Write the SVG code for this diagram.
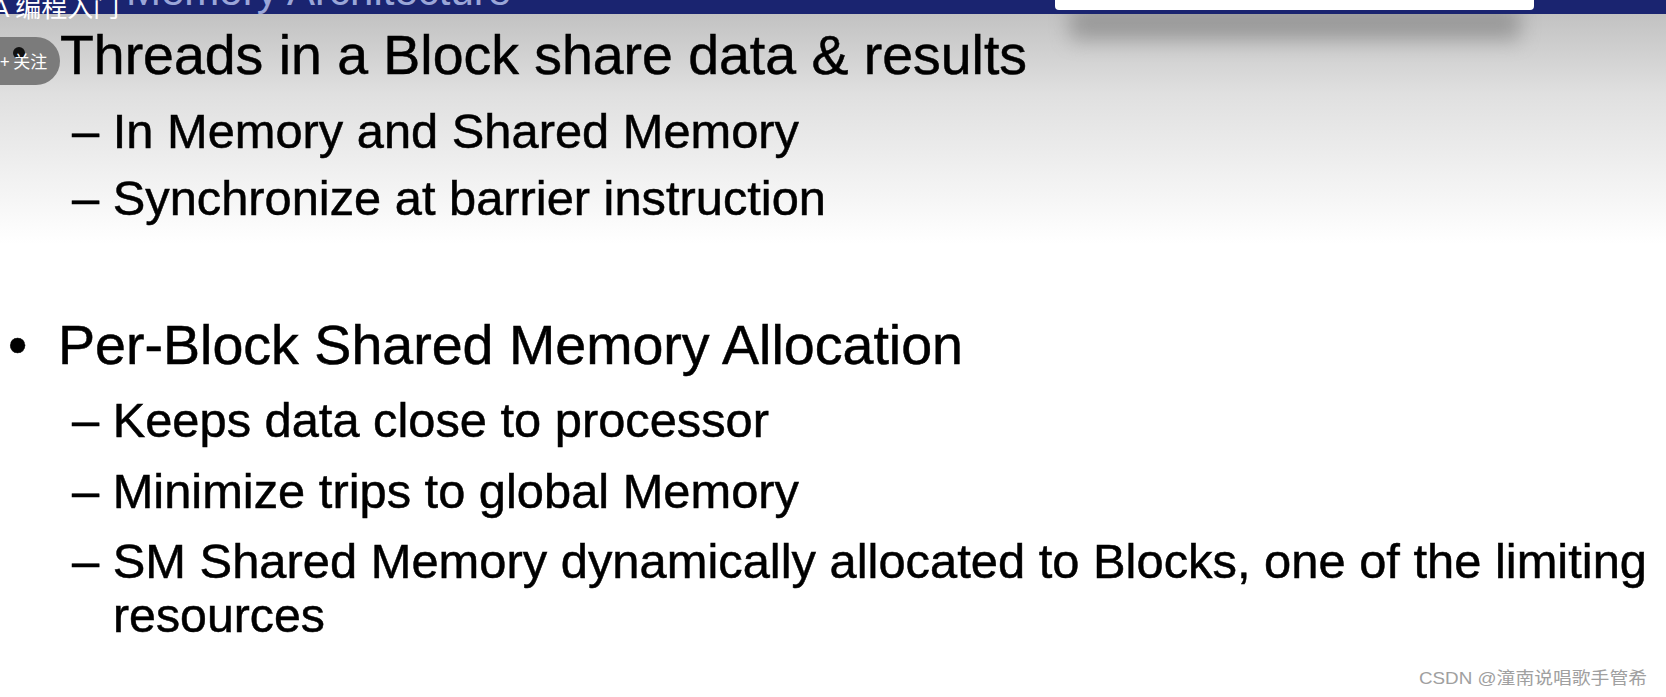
<svg xmlns="http://www.w3.org/2000/svg" width="1666" height="697" viewBox="0 0 1666 697">
<defs>
<linearGradient id="bg" x1="0" y1="0" x2="0" y2="1">
<stop offset="0" stop-color="#c2c2c2"/>
<stop offset="0.35" stop-color="#e0e0e0"/>
<stop offset="1" stop-color="#ffffff"/>
</linearGradient>
<filter id="sh" x="-10%" y="-100%" width="120%" height="400%">
<feGaussianBlur stdDeviation="10"/>
</filter>
<style>
.t{font-family:"Liberation Sans",Arial,sans-serif;fill:#000;stroke:#000;stroke-width:0.5px}
.h1{font-size:55px}
.h2{font-size:49px}
.wm{font-family:"Liberation Sans","Noto Sans CJK SC",sans-serif;font-size:17px;fill:#a0a0a0;stroke:#ffffff;stroke-width:0.6px;paint-order:stroke}
</style>
</defs>
<rect width="1666" height="697" fill="#ffffff"/>
<rect x="0" y="14" width="1666" height="230" fill="url(#bg)"/>
<g id="topbar">
<rect x="1070" y="6" width="450" height="34" fill="#6e6e6e" opacity="0.5" filter="url(#sh)"/>
<rect x="0" y="0" width="1666" height="14" fill="#1a2470"/>
<text x="126" y="5" font-family="Liberation Sans,Arial,sans-serif" font-size="42" fill="#9aa6d8">Memory Architecture</text>
<text x="-8" y="17" font-family="Liberation Sans,'Noto Sans CJK SC',sans-serif" font-size="26" fill="#ffffff">A 编程入门</text>
<rect x="1055" y="-6" width="479" height="16" rx="4" fill="#ffffff"/>
</g>
<g id="badge">
<rect x="-30" y="37" width="90" height="48" rx="24" fill="#7b7b7b"/>
<circle cx="19" cy="53" r="6" fill="#111"/>
<text x="0" y="68" font-family="'Noto Sans CJK SC',sans-serif" font-size="17" fill="#ffffff">+ 关注</text>
</g>
<g id="slide">
<text class="t h1" x="60" y="74" textLength="967" lengthAdjust="spacingAndGlyphs">Threads in a Block share data &amp; results</text>
<text class="t h2" x="72" y="148" textLength="727" lengthAdjust="spacingAndGlyphs">– In Memory and Shared Memory</text>
<text class="t h2" x="72" y="215" textLength="754" lengthAdjust="spacingAndGlyphs">– Synchronize at barrier instruction</text>
<text class="t h1" x="8" y="364">•</text>
<text class="t h1" x="58" y="364" textLength="905" lengthAdjust="spacingAndGlyphs">Per-Block Shared Memory Allocation</text>
<text class="t h2" x="72" y="437" textLength="697" lengthAdjust="spacingAndGlyphs">– Keeps data close to processor</text>
<text class="t h2" x="72" y="508" textLength="727" lengthAdjust="spacingAndGlyphs">– Minimize trips to global Memory</text>
<text class="t h2" x="72" y="578" textLength="1575" lengthAdjust="spacingAndGlyphs">– SM Shared Memory dynamically allocated to Blocks, one of the limiting</text>
<text class="t h2" x="113" y="632" textLength="212" lengthAdjust="spacingAndGlyphs">resources</text>
</g>
<text class="wm" x="1419" y="684" textLength="228" lengthAdjust="spacingAndGlyphs">CSDN @潼南说唱歌手管希</text>
</svg>
